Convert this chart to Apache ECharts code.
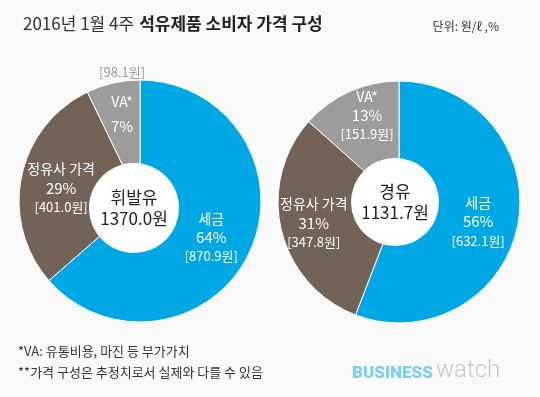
<!DOCTYPE html>
<html>
<head>
<meta charset="utf-8">
<script src="https://cdn.jsdelivr.net/npm/echarts@6/dist/echarts.min.js"></script>
<style>
  html, body { margin: 0; padding: 0; background: #f9f9f9; }
  #chart { width: 540px; height: 397px; }
</style>
</head>
<body>
<div id="chart"></div>
<script>
// 구성 항목
const parts = ['세금', '정유사 가격', 'VA*'];
const gasoline = [870.9, 401.0, 98.1];
const diesel = [632.1, 347.8, 151.9];
const gasolinePct = [64, 29, 7];
const dieselPct = [56, 31, 13];
const fuels = ['휘발유', '경유'];
const totals = ['1370.0', '1131.7'];

const colors = ['#00a7e5', '#736356', '#9c9c9c'];
const font = '"Noto Sans CJK KR", "Noto Sans", sans-serif';

// 라벨 미세 위치 조정
const leftOffsets = [[-2, 3], [0, 3], [0, -26]];
const rightOffsets = [[0, 5], [-7, 2], [1, -13]];

const myChart = echarts.init(document.getElementById('chart'));

const rich = {
  n: { fontSize: 14, color: '#fff', lineHeight: 19, fontFamily: font },
  p: { fontSize: 15, color: '#fff', lineHeight: 19, fontFamily: font },
  v: { fontSize: 13, color: '#fff', lineHeight: 19, fontFamily: font },
  g: { fontSize: 13, color: '#999', lineHeight: 30, fontFamily: font },
  m: { fontSize: 14, color: '#fff', lineHeight: 30, fontFamily: font }
};

function pieData(values, pcts, offsets, vaOutside) {
  return values.map(function (v, i) {
    const item = { name: parts[i], value: v, itemStyle: { color: colors[i] } };
    if (vaOutside && i === 2) {
      item.label = {
        formatter: '{g|[' + v.toFixed(1) + '원]}\n{m|' + parts[i] + '}\n{p|' + pcts[i] + '%}',
        offset: offsets[i]
      };
    } else {
      item.label = {
        formatter: '{n|' + parts[i] + '}\n{p|' + pcts[i] + '%}\n{v|[' + v.toFixed(1) + '원]}',
        offset: offsets[i]
      };
    }
    return item;
  });
}

function outerPie(center, values, pcts, offsets, vaOutside) {
  return {
    type: 'pie',
    center: center,
    radius: [34, 121],
    startAngle: 90,
    clockwise: true,
    silent: true,
    itemStyle: { borderColor: '#fff', borderWidth: 1 },
    label: { show: true, position: 'inside', rich: rich, fontFamily: font },
    labelLine: { show: false },
    data: pieData(values, pcts, offsets, vaOutside)
  };
}

function innerCircle(center, r, idx) {
  return {
    type: 'pie',
    center: center,
    radius: r,
    silent: true,
    z: 5,
    label: {
      show: true,
      position: 'center',
      formatter: '{c|' + fuels[idx] + '}\n{c|' + totals[idx] + '원}',
      rich: { c: { fontSize: 17, color: '#222', lineHeight: 21, fontFamily: font } }
    },
    labelLine: { show: false },
    itemStyle: { color: '#fff' },
    data: [{ name: fuels[idx], value: 1 }]
  };
}

const option = {
  backgroundColor: '#f9f9f9',
  animation: false,
  title: [
    {
      text: '{a|2016년 1월 4주} {b|석유제품 소비자 가격 구성}',
      left: 18,
      top: 10,
      textStyle: {
        rich: {
          a: { fontSize: 17, color: '#333', fontWeight: 'normal', fontFamily: font },
          b: { fontSize: 17, color: '#222', fontWeight: 'bold', fontFamily: font }
        }
      }
    },
    {
      text: '단위: 원/ℓ ,%',
      right: 36,
      top: 15,
      textStyle: { fontSize: 12, color: '#333', fontWeight: 'normal', fontFamily: font }
    }
  ],
  graphic: [
    { type: 'text', left: 18, top: 345, style: { text: '*VA: 유통비용, 마진 등 부가가치', fontSize: 13, fill: '#333', fontFamily: font } },
    { type: 'text', left: 18, top: 366, style: { text: '**가격 구성은 추정치로서 실제와 다를 수 있음', fontSize: 13, fill: '#333', fontFamily: font } },
    { type: 'text', left: 352, top: 365, style: { text: 'BUSINESS', fontSize: 17, fontWeight: 900, fill: '#7fcdef', fontFamily: 'Roboto, sans-serif' } },
    { type: 'text', left: 436, top: 359, style: { text: 'watch', fontSize: 24, fontWeight: 300, fill: '#c8c8c8', fontFamily: 'Roboto, sans-serif' } }
  ],
  series: [
    outerPie([140, 201], gasoline, gasolinePct, leftOffsets, true),
    innerCircle([134, 208], 45, 0),
    outerPie([399, 202], diesel, dieselPct, rightOffsets, false),
    innerCircle([395, 202], 44, 1)
  ]
};

myChart.setOption(option);
</script>
</body>
</html>
